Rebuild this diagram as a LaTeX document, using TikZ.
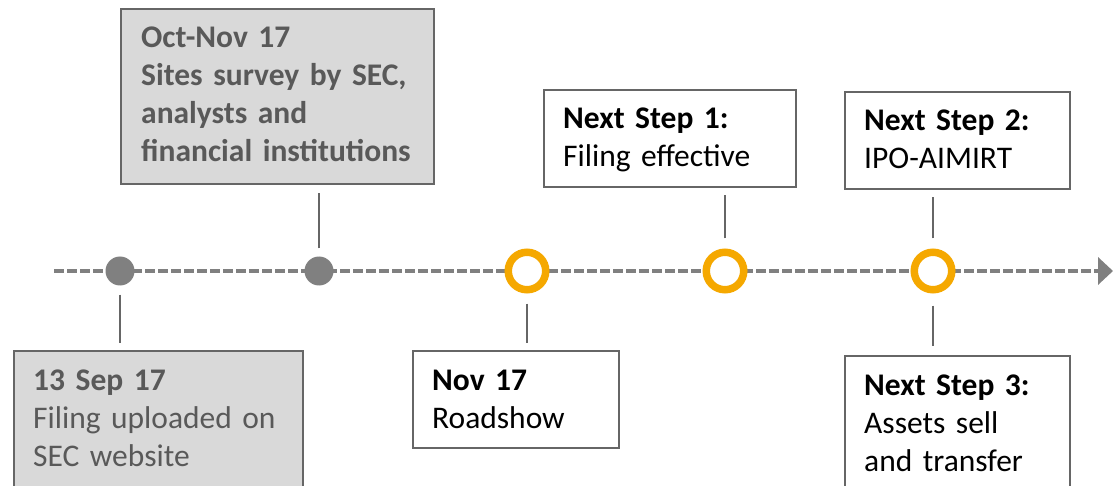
\documentclass[tikz,border=0pt]{standalone}
\usepackage{fontspec}
\setmainfont{Carlito}
\usetikzlibrary{arrows.meta}
\definecolor{axisgray}{RGB}{128,128,128}
\definecolor{linegray}{RGB}{102,102,102}
\definecolor{boxfill}{RGB}{217,217,217}
\definecolor{txtgray}{RGB}{89,89,89}
\definecolor{ringorange}{RGB}{245,168,0}
\begin{document}
\begin{tikzpicture}[x=1pt,y=-1pt,
  boxframe/.style={draw=linegray, line width=1.8pt, anchor=north west, inner sep=0pt},
  graybox/.style={boxframe, fill=boxfill},
  whitebox/.style={boxframe, fill=white},
  lbl/.style={anchor=base west, inner sep=0pt, align=left, text width=400pt, font=\fontsize{31.5}{38}\selectfont},
  dot/.style={circle, fill=axisgray, minimum size=29pt, inner sep=0pt},
  ring/.style={circle, draw=ringorange, line width=7.5pt, fill=white, minimum size=37.5pt, inner sep=0pt},
  conn/.style={draw=linegray, line width=1.5pt},
  axisline/.style={axisgray, line width=4pt, dash pattern=on 9.5pt off 3.5pt, -{Triangle[length=15pt,width=27pt]}}
]
\useasboundingbox (0,0) rectangle (1113,486);
\coordinate (axstart) at (54,271);
\coordinate (axend) at (1113,271);
\draw[axisline] (axstart) -- (axend);

% boxes
\node[graybox, minimum width=289pt, minimum height=200pt] (A) at (13,350) {};
\node[lbl, text=txtgray] (At) at (33,390) {\bfseries 13 Sep 17\\ \mdseries Filing uploaded on\\SEC website};
\node[graybox, minimum width=313pt, minimum height=175pt] (B) at (120,8) {};
\node[lbl, text=txtgray, font=\fontsize{31.5}{38}\selectfont\bfseries] (Bt) at (141,48) {Oct-Nov 17\\Sites survey by SEC,\\analysts and\\financial institutions};
\node[whitebox, minimum width=206pt, minimum height=97pt] (C) at (412,350) {};
\node[lbl] (Ct) at (432,390) {\bfseries Nov 17\\ \mdseries Roadshow};
\node[whitebox, minimum width=252pt, minimum height=97pt] (D) at (543,89) {};
\node[lbl] (Dt) at (563,129) {\bfseries Next Step 1:\\ \mdseries Filing effective};
\node[whitebox, minimum width=225pt, minimum height=97pt] (E) at (844,91) {};
\node[lbl] (Et) at (864,131) {\bfseries Next Step 2:\\ \mdseries IPO-AIMIRT};
\node[whitebox, minimum width=225pt, minimum height=200pt] (F) at (844,355) {};
\node[lbl] (Ft) at (864,395) {\bfseries Next Step 3:\\ \mdseries Assets sell\\and transfer};

% markers
\node[dot] (d1) at (120,271) {};
\node[dot] (d2) at (319,271) {};
\node[ring] (r1) at (527,271) {};
\node[ring] (r2) at (725,271) {};
\node[ring] (r3) at (933,271) {};

% connectors
\draw[conn, shorten <=9pt, shorten >=7pt] (d1.south) -- (d1.south |- A.north);
\draw[conn, shorten <=8pt, shorten >=8pt] (d2.north) -- (d2.north |- B.south);
\draw[conn, shorten <=10pt, shorten >=7pt] (r1.south) -- (r1.south |- C.north);
\draw[conn, shorten <=10pt, shorten >=7pt] (r2.north) -- (r2.north |- D.south);
\draw[conn, shorten <=10pt, shorten >=7pt] (r3.north) -- (r3.north |- E.south);
\draw[conn, shorten <=12pt, shorten >=9pt] (r3.south) -- (r3.south |- F.north);
\end{tikzpicture}
\end{document}
